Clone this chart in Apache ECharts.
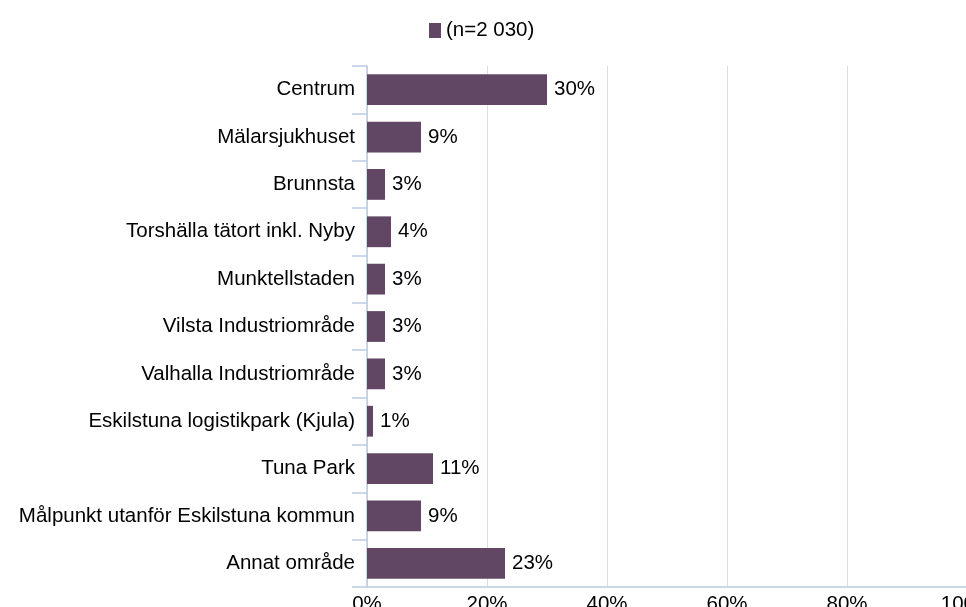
<!DOCTYPE html>
<html>
<head>
<meta charset="utf-8">
<script src="https://cdn.jsdelivr.net/npm/echarts@6/dist/echarts.min.js"></script>
<style>
  html, body { margin: 0; padding: 0; background: #fff; }
  #chart { width: 966px; height: 607px; }
</style>
</head>
<body>
<div id="chart"></div>
<script>
// kategorier uppifrån och ned
const categories = [
  "Centrum",
  "Mälarsjukhuset",
  "Brunnsta",
  "Torshälla tätort inkl. Nyby",
  "Munktellstaden",
  "Vilsta Industriområde",
  "Valhalla Industriområde",
  "Eskilstuna logistikpark (Kjula)",
  "Tuna Park",
  "Målpunkt utanför Eskilstuna kommun",
  "Annat område"
];
const shares = [30, 9, 3, 4, 3, 3, 3, 1, 11, 9, 23];
const seriesName = "(n=2 030)";
const xTicks = [0, 20, 40, 60, 80, 100];

const chart = echarts.init(document.getElementById("chart"));
chart.setOption({
  animation: false,
  textStyle: { fontFamily: "Liberation Sans, Arial, sans-serif" },
  legend: {
    data: [seriesName],
    top: 15,
    left: 424,
    icon: "rect",
    itemWidth: 12,
    itemHeight: 15,
    itemGap: 8,
    textStyle: { fontSize: 20.5, color: "#000" }
  },
  grid: { left: 367, top: 66, width: 600, height: 521, outerBoundsMode: "none" },
  xAxis: {
    type: "value",
    min: xTicks[0],
    max: xTicks[xTicks.length - 1],
    interval: 20,
    axisLabel: { formatter: "{value}%", fontSize: 20.5, color: "#000", margin: 7 },
    axisLine: { show: true, lineStyle: { color: "#b9cbe3", width: 1.5 } },
    axisTick: { show: false },
    splitLine: { lineStyle: { color: "#d9dde5", width: 1 } }
  },
  yAxis: {
    type: "category",
    inverse: true,
    data: categories,
    axisLabel: { fontSize: 20.5, color: "#000", margin: 12 },
    axisLine: { show: true, lineStyle: { color: "#b9cbe3", width: 1.5 } },
    axisTick: { show: true, length: 15, lineStyle: { color: "#b9cbe3", width: 1.5 } }
  },
  series: [{
    name: seriesName,
    type: "bar",
    data: shares,
    barCategoryGap: "35%",
    itemStyle: { color: "#614763" },
    label: {
      show: true,
      position: "right",
      distance: 7,
      formatter: p => Math.round(p.value) + "%",
      fontSize: 20.5,
      color: "#000"
    }
  }]
});
</script>
</body>
</html>
